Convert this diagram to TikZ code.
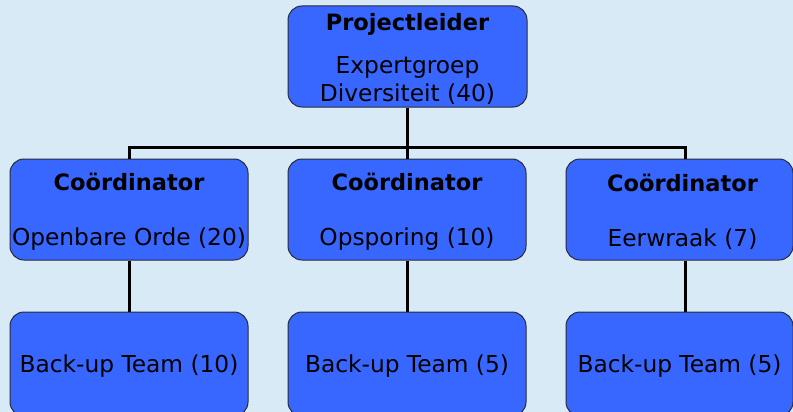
\documentclass[tikz,border=0pt]{standalone}
\usepackage{fontspec}
\setmainfont{DejaVu Sans}
\definecolor{bg}{HTML}{D8EAF5}
\definecolor{boxblue}{HTML}{3867FF}
\definecolor{boxline}{HTML}{2A2A3A}
\newcommand{\hd}[1]{{\fontsize{22.5}{28}\selectfont\bfseries #1}}
\begin{document}
\begin{tikzpicture}[x=1pt,y=-1pt,
  box/.style={draw=boxline, line width=1pt, fill=boxblue, rounded corners=14pt,
    inner sep=0pt},
  lab/.style={align=center, inner sep=0pt, yshift=-2pt,
    font=\fontsize{23.3}{28}\selectfont},
  conn/.style={line width=3pt, draw=black}]
\fill[bg] (0,0) rectangle (793,412);
\useasboundingbox (0,0) rectangle (793,412);
% boxes
\node[box, minimum width=239pt, minimum height=101pt,
  label={[lab]center:{\hd{Projectleider}\\[15pt]Expertgroep\\Diversiteit (40)}}]
  (top) at (407.5,56.5) {};
\node[box, minimum width=238pt, minimum height=101pt,
  label={[lab]center:{\hd{Coördinator}\\[27pt]Openbare Orde (20)}}]
  (cL) at (129,209.5) {};
\node[box, minimum width=238pt, minimum height=101pt,
  label={[lab]center:{\hd{Coördinator}\\[27pt]Opsporing (10)}}]
  (cM) at (407,209.5) {};
\node[box, minimum width=227pt, minimum height=101pt,
  label={[lab,xshift=3pt]center:{\hd{Coördinator}\\[27pt]Eerwraak (7)}}]
  (cR) at (679.5,209.5) {};
\node[box, minimum width=238pt, minimum height=104pt,
  label={[lab]center:{Back-up Team (10)}}]
  (bL) at (129,364) {};
\node[box, minimum width=238pt, minimum height=104pt,
  label={[lab]center:{Back-up Team (5)}}]
  (bM) at (407,364) {};
\node[box, minimum width=227pt, minimum height=104pt,
  label={[lab]center:{Back-up Team (5)}}]
  (bR) at (679.5,364) {};
% junctions
\coordinate (j) at (407,147.5);
\coordinate (jl) at (129,147.5);
\coordinate (jr) at (685,147.5);
% connectors
\draw[conn] (top.south -| j) -- (j);
\draw[conn] (cL.north -| jl) -- (jl) -- (jr) -- (cR.north -| jr);
\draw[conn] (j) -- (cM.north);
\draw[conn] (cL.south) -- (bL.north);
\draw[conn] (cM.south) -- (bM.north);
\draw[conn] (cR.south -| jr) -- (bR.north -| jr);
\end{tikzpicture}
\end{document}
